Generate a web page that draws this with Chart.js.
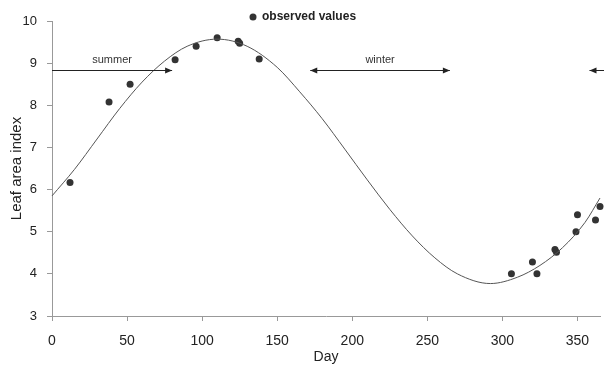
<!DOCTYPE html>
<html>
<head>
<meta charset="utf-8">
<script src="https://cdn.jsdelivr.net/npm/chart.js@4.4.1/dist/chart.umd.min.js"></script>
<style>
  html, body { margin: 0; padding: 0; background: #fff; }
  #wrap { width: 604px; height: 365px; }
</style>
</head>
<body>
<div id="wrap"><canvas id="laiChart" width="604" height="365"></canvas></div>
<script>
// fitted curve
const curveDays = [0, 15, 30, 45, 60, 75, 90, 110, 130, 150, 165, 180, 195, 210, 225, 240, 255, 270, 292, 310, 325, 340, 355, 365];
const curveLAI  = [5.85, 6.48, 7.2, 7.92, 8.55, 9.05, 9.4, 9.57, 9.4, 8.9, 8.32, 7.68, 6.96, 6.23, 5.53, 4.9, 4.38, 4.0, 3.77, 3.92, 4.2, 4.62, 5.22, 5.8];

// observed values
const obsDays = [12, 38, 52, 82, 96, 110, 124, 125, 138, 306, 320, 323, 335, 336, 349, 350, 362, 365];
const obsLAI  = [6.17, 8.08, 8.5, 9.08, 9.4, 9.6, 9.52, 9.47, 9.1, 4.0, 4.28, 4.0, 4.58, 4.51, 5.0, 5.4, 5.28, 5.6];

const xTicks = [0, 50, 100, 150, 200, 250, 300, 350];
const yTicks = [3, 4, 5, 6, 7, 8, 9, 10];

// season arrows (days)
const seasonNames = ['summer', 'winter', ''];
const seasonStart = [0, 172, 358];
const seasonEnd   = [80, 265, 368];
const seasonHeadStart = [false, true, true];
const seasonHeadEnd   = [true, true, false];
const seasonArrowLAI = 8.83;
const seasonLabelLAI = 9.07;

const FONT = "'Liberation Sans', Arial, sans-serif";

const toPoints = (xs, ys) => xs.map((x, i) => ({ x: x, y: ys[i] }));

function arrowHead(ctx, x, y, dir) {
  ctx.beginPath();
  ctx.moveTo(x, y);
  ctx.lineTo(x - dir * 7, y - 3);
  ctx.lineTo(x - dir * 7, y + 3);
  ctx.closePath();
  ctx.fill();
}

const seasonPlugin = {
  id: 'seasons',
  afterDatasetsDraw(chart) {
    const ctx = chart.ctx;
    const xs = chart.scales.x, ys = chart.scales.y;
    const yA = Math.round(ys.getPixelForValue(seasonArrowLAI)) + 0.5;
    const yL = ys.getPixelForValue(seasonLabelLAI);
    ctx.save();
    ctx.strokeStyle = '#222';
    ctx.fillStyle = '#222';
    ctx.lineWidth = 1;
    for (let i = 0; i < seasonNames.length; i++) {
      const x1 = xs.getPixelForValue(seasonStart[i]);
      const x2 = xs.getPixelForValue(seasonEnd[i]);
      ctx.beginPath();
      ctx.moveTo(x1, yA);
      ctx.lineTo(x2, yA);
      ctx.stroke();
      if (seasonHeadStart[i]) arrowHead(ctx, x1, yA, -1);
      if (seasonHeadEnd[i]) arrowHead(ctx, x2, yA, 1);
      if (seasonNames[i]) {
        ctx.font = '11px ' + FONT;
        ctx.fillStyle = '#333';
        ctx.textAlign = 'center';
        ctx.textBaseline = 'middle';
        ctx.fillText(seasonNames[i], (x1 + x2) / 2, yL);
        ctx.fillStyle = '#222';
      }
    }
    // legend
    ctx.fillStyle = '#333';
    ctx.beginPath();
    ctx.arc(253, 17, 3.5, 0, Math.PI * 2);
    ctx.fill();
    ctx.fillStyle = '#222';
    ctx.font = 'bold 12px ' + FONT;
    ctx.textAlign = 'left';
    ctx.textBaseline = 'middle';
    ctx.fillText('observed values', 262, 17);
    ctx.restore();
  }
};

const ctx = document.getElementById('laiChart').getContext('2d');
const laiChart = new Chart(ctx, {
  type: 'scatter',
  data: {
    datasets: [{
      label: 'fitted',
      data: toPoints(curveDays, curveLAI),
      showLine: true,
      borderColor: '#555',
      borderWidth: 1,
      pointRadius: 0,
      cubicInterpolationMode: 'monotone',
      clip: false
    }, {
      label: 'observed values',
      data: toPoints(obsDays, obsLAI),
      showLine: false,
      backgroundColor: '#333',
      borderColor: '#333',
      pointRadius: 3.5,
      borderWidth: 0,
      clip: false
    }]
  },
  options: {
    responsive: false,
    animation: false,
    layout: { padding: { top: 21, right: 2, left: 0, bottom: 0 } },
    plugins: { legend: { display: false }, tooltip: { enabled: false } },
    scales: {
      x: {
        type: 'linear',
        min: 0,
        max: 365,
        afterBuildTicks: (s) => { s.ticks = xTicks.map(v => ({ value: v })); },
        afterFit: (s) => { s.height = 49; },
        grid: { drawOnChartArea: false, color: '#999', tickLength: 5 },
        border: { color: '#999' },
        ticks: { color: '#222', padding: 12, font: { family: FONT, size: 14 } },
        title: { display: true, text: 'Day', color: '#222', padding: { top: 0, bottom: -1 }, font: { family: FONT, size: 14 } }
      },
      y: {
        min: 3,
        max: 10,
        afterBuildTicks: (s) => { s.ticks = yTicks.map(v => ({ value: v })); },
        afterFit: (s) => { s.width = 52; },
        grid: { drawOnChartArea: false, color: '#999', tickLength: 5 },
        border: { color: '#999' },
        ticks: { color: '#222', padding: 10, font: { family: FONT, size: 13 } },
        title: { display: true, text: 'Leaf area index', color: '#222', padding: { top: 8, bottom: 0 }, font: { family: FONT, size: 15 } }
      }
    }
  },
  plugins: [seasonPlugin]
});
</script>
</body>
</html>
